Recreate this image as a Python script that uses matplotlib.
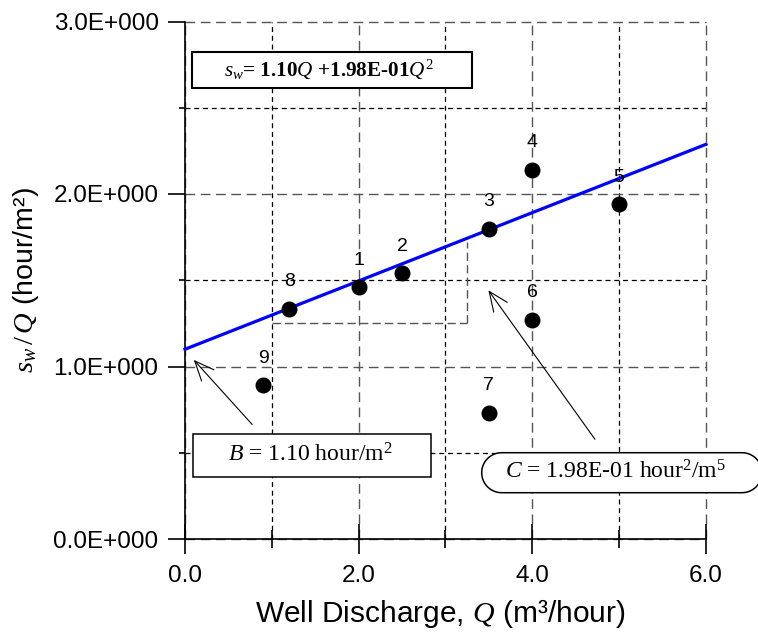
import matplotlib
matplotlib.use("Agg")
import numpy as np
import matplotlib.pyplot as plt
from matplotlib.patches import Rectangle, Polygon

# well test data, Q (m3/hour) vs sw/Q (hour/m2)
well_q = [2.0, 2.5, 3.5, 4.0, 5.0, 4.0, 3.5, 1.2, 0.9]
sw_over_q = [1.46, 1.54, 1.80, 2.14, 1.94, 1.27, 0.73, 1.335, 0.89]
point_ids = ['1', '2', '3', '4', '5', '6', '7', '8', '9']

# fitted line sw/Q = B + C*Q
fit_x = [0.0, 6.0]
fit_y = [1.10, 2.288]

x_ticks = [0.0, 2.0, 4.0, 6.0]
x_ticklabels = ['0.0', '2.0', '4.0', '6.0']
y_ticks = [0.0, 1.0, 2.0, 3.0]
y_ticklabels = ['0.0E+000', '1.0E+000', '2.0E+000', '3.0E+000']

plt.rcParams['font.family'] = ['Liberation Sans', 'DejaVu Sans']
plt.rcParams['mathtext.fontset'] = 'custom'
plt.rcParams['mathtext.it'] = 'Liberation Serif:italic'
plt.rcParams['mathtext.rm'] = 'Liberation Serif'
plt.rcParams['mathtext.bf'] = 'Liberation Serif:bold'

fig = plt.figure(figsize=(7.58, 6.37), dpi=100)
ax = fig.add_axes([185 / 758, 1 - 539 / 637, 521 / 758, 517.5 / 637])

ax.set_xlim(0, 6)
ax.set_ylim(0, 3)
ax.spines['top'].set_visible(False)
ax.spines['right'].set_visible(False)

ax.set_xticks(x_ticks)
ax.set_xticklabels(x_ticklabels)
ax.set_xticks([1.0, 3.0, 5.0], minor=True)
ax.set_yticks(y_ticks)
ax.set_yticklabels(y_ticklabels)
ax.set_yticks([0.5, 1.5, 2.5], minor=True)

ax.tick_params(axis='x', which='major', direction='inout', length=22, width=1.2,
               labelsize=17.5, pad=8)
ax.tick_params(axis='x', which='minor', direction='inout', length=13, width=1.2)
ax.tick_params(axis='y', which='major', direction='out', length=12, width=1.2,
               labelsize=17.5, pad=7)
ax.tick_params(axis='y', which='minor', direction='out', length=4.5, width=1.2)
for s in ['left', 'bottom']:
    ax.spines[s].set_linewidth(1.2)

ax.set_axisbelow(True)
ax.grid(which='major', linestyle=(0, (7, 4)), color='#555555', lw=1.0)
ax.grid(which='minor', linestyle=(0, (4, 3)), color='black', lw=0.9)
for g in ax.get_xgridlines() + ax.get_ygridlines():
    g.set_clip_on(False)

# slope triangle guide
ax.plot([1.0, 3.25], [1.255, 1.255], linestyle=(0, (6, 3)), color='#555555', lw=1.0)
ax.plot([3.25, 3.25], [1.255, 1.72], linestyle=(0, (6, 3)), color='#555555', lw=1.0)

ax.plot(fit_x, fit_y, color='#0000ff', lw=2.3, zorder=3, clip_on=False)
ax.scatter(well_q, sw_over_q, s=110, color='black', zorder=4)
for q, v, lab in zip(well_q, sw_over_q, point_ids):
    ax.annotate(lab, (q, v), xytext=(0, 19.5), textcoords='offset points',
                ha='center', va='center', fontsize=14, zorder=5)

ax.set_xlabel('Well Discharge, $Q$ (m³/hour)', fontsize=21.5, labelpad=7)
ax.xaxis.label.set_x(0.489)
ax.set_ylabel('$s_w\\,/\\,Q$ (hour/m²)', fontsize=20.5, labelpad=9)

# equation box
fig.patches.append(Rectangle((1.917, (637 - 88.3) / 100), 2.80, 0.366,
                             transform=fig.dpi_scale_trans, fc='white',
                             ec='black', lw=1.5, zorder=5))
fig.text(3.285 / 7.58, 1 - 70 / 637, '$s_w$= 1.10$Q$ +1.98E-01$Q^2$',
         family='Liberation Serif', fontweight='bold', fontsize=15.2,
         ha='center', va='center', zorder=6)

# B box
fig.patches.append(Rectangle((1.927, (637 - 476.7) / 100), 2.38, 0.427,
                             transform=fig.dpi_scale_trans,
                             fc='white', ec='black', lw=1.1, zorder=5))
fig.text(3.10 / 7.58, 1 - 455 / 637, '$B$ = 1.10 hour/m$^2$',
         family='Liberation Serif', fontsize=17, ha='center', va='center', zorder=6)

# C box, stadium shape (inches)
cx0, cx1, cy0, cy1 = 4.817, 7.62, (637 - 492.7) / 100, (637 - 452.7) / 100
r = (cy1 - cy0) / 2
t = np.linspace(np.pi / 2, 3 * np.pi / 2, 40)
left = np.column_stack([cx0 + r + r * np.cos(t), cy0 + r + r * np.sin(t)])
right = np.column_stack([cx1 - r - r * np.cos(t), cy0 + r - r * np.sin(t)])
fig.patches.append(Polygon(np.vstack([left, right]), closed=True,
                           transform=fig.dpi_scale_trans, fc='white',
                           ec='black', lw=1.1, zorder=5))
fig.text(6.16 / 7.58, 1 - 472 / 637, '$C$ = 1.98E-01 hour$^2$/m$^5$',
         family='Liberation Serif', fontsize=17, ha='center', va='center', zorder=6)

# arrows
ax.annotate('', xy=(0.08, 1.05), xytext=(0.795, 0.652),
            arrowprops=dict(arrowstyle='->,head_length=0.7,head_width=0.3',
                            mutation_scale=20, lw=0.8, color='black'))
ax.annotate('', xy=(3.475, 1.455), xytext=(4.74, 0.565),
            arrowprops=dict(arrowstyle='->,head_length=0.7,head_width=0.3',
                            mutation_scale=20, lw=0.8, color='black'))

fig.savefig('out.png', dpi=100)
